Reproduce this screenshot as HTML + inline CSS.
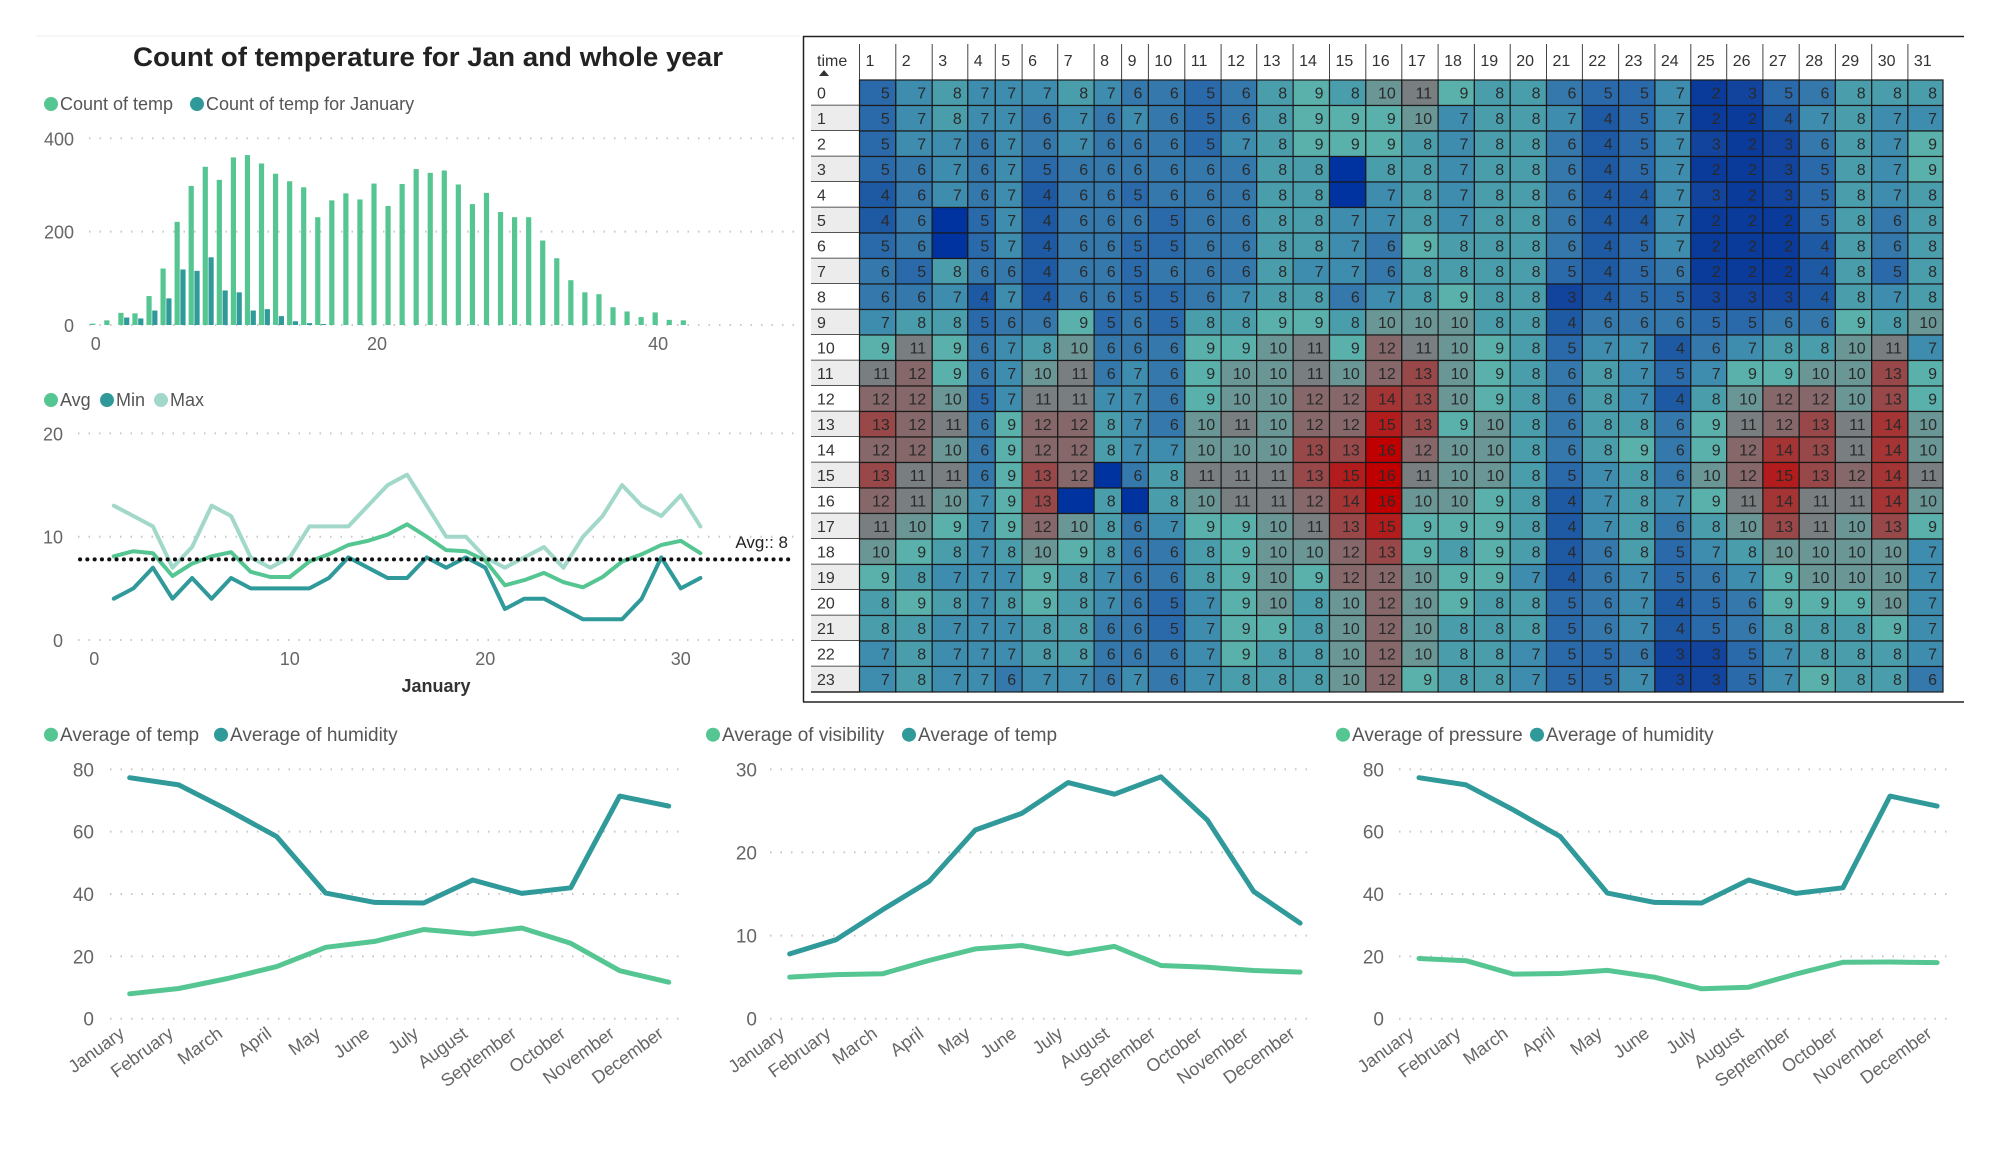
<!DOCTYPE html>
<html><head><meta charset="utf-8"><title>Weather dashboard</title>
<style>
html,body{margin:0;padding:0;background:#fff;}
svg{display:block;font-family:"Liberation Sans",sans-serif;}
</style></head>
<body>
<svg id="dash" width="2000" height="1156" viewBox="0 0 2000 1156" xmlns="http://www.w3.org/2000/svg">
<g id="bars"></g>
<g id="jan"></g>
<g id="heat"></g>
<g id="m1"></g>
<g id="m2"></g>
<g id="m3"></g>
</svg>
<script>
// ---------- data ----------
const tempCategories = [0,1,2,3,4,5,6,7,8,9,10,11,12,13,14,15,16,17,18,19,20,21,22,23,24,25,26,27,28,29,30,31,32,33,34,35,36,37,38,39,40,41,42];
const countAll = [3,10,26,25,62,121,221,298,339,311,359,364,346,324,308,295,231,267,282,269,303,255,302,334,326,331,301,259,283,242,231,231,181,143,96,70,66,38,29,17,27,11,10];
const countJan = [0,0,16,14,31,57,119,116,145,74,70,31,34,19,8,4,2,0,0,0,0,0,0,0,0,0,0,0,0,0,0,0,0,0,0,0,0,0,0,0,0,0,0];
const barYTicks = [0,200,400];
const barXTicks = [0,20,40];

const janDays = [1,2,3,4,5,6,7,8,9,10,11,12,13,14,15,16,17,18,19,20,21,22,23,24,25,26,27,28,29,30,31];
const janMax = [13,12,11,7,9,13,12,8,7,8,11,11,11,13,15,16,13,10,10,8,7,8,9,7,10,12,15,13,12,14,11];
const janAvg = [8.1,8.6,8.4,6.2,7.4,8.1,8.5,6.6,6.1,6.1,7.6,8.3,9.2,9.6,10.2,11.2,10,8.7,8.6,7.7,5.3,5.8,6.5,5.6,5.1,6.1,7.6,8.3,9.2,9.6,8.4];
const janMin = [4,5,7,4,6,4,6,5,5,5,5,6,8,7,6,6,8,7,8,7,3,4,4,3,2,2,2,4,8,5,6];
const janAvgLine = 7.8;
const janYTicks = [0,10,20];
const janXTicks = [0,10,20,30];

const heatCols = [1,2,3,4,5,6,7,8,9,10,11,12,13,14,15,16,17,18,19,20,21,22,23,24,25,26,27,28,29,30,31];
const heatRows = [0,1,2,3,4,5,6,7,8,9,10,11,12,13,14,15,16,17,18,19,20,21,22,23];
const N = null;
const heatValues = [
[5,7,8,7,7,7,8,7,6,6,5,6,8,9,8,10,11,9,8,8,6,5,5,7,2,3,5,6,8,8,8],
[5,7,8,7,7,6,7,6,7,6,5,6,8,9,9,9,10,7,8,8,7,4,5,7,2,2,4,7,8,7,7],
[5,7,7,6,7,6,7,6,6,6,5,7,8,9,9,9,8,7,8,8,6,4,5,7,3,2,3,6,8,7,9],
[5,6,7,6,7,5,6,6,6,6,6,6,8,8,N,8,8,7,8,8,6,4,5,7,2,2,3,5,8,7,9],
[4,6,7,6,7,4,6,6,5,6,6,6,8,8,N,7,8,7,8,8,6,4,4,7,3,2,3,5,8,7,8],
[4,6,N,5,7,4,6,6,6,5,6,6,8,8,7,7,8,7,8,8,6,4,4,7,2,2,2,5,8,6,8],
[5,6,N,5,7,4,6,6,5,5,6,6,8,8,7,6,9,8,8,8,6,4,5,7,2,2,2,4,8,6,8],
[6,5,8,6,6,4,6,6,5,6,6,6,8,7,7,6,8,8,8,8,5,4,5,6,2,2,2,4,8,5,8],
[6,6,7,4,7,4,6,6,5,5,6,7,8,8,6,7,8,9,8,8,3,4,5,5,3,3,3,4,8,7,8],
[7,8,8,5,6,6,9,5,6,5,8,8,9,9,8,10,10,10,8,8,4,6,6,6,5,5,6,6,9,8,10],
[9,11,9,6,7,8,10,6,6,6,9,9,10,11,9,12,11,10,9,8,5,7,7,4,6,7,8,8,10,11,7],
[11,12,9,6,7,10,11,6,7,6,9,10,10,11,10,12,13,10,9,8,6,8,7,5,7,9,9,10,10,13,9],
[12,12,10,5,7,11,11,7,7,6,9,10,10,12,12,14,13,10,9,8,6,8,7,4,8,10,12,12,10,13,9],
[13,12,11,6,9,12,12,8,7,6,10,11,10,12,12,15,13,9,10,8,6,8,8,6,9,11,12,13,11,14,10],
[12,12,10,6,9,12,12,8,7,7,10,10,10,13,13,16,12,10,10,8,6,8,9,6,9,12,14,13,11,14,10],
[13,11,11,6,9,13,12,N,6,8,11,11,11,13,15,16,11,10,10,8,5,7,8,6,10,12,15,13,12,14,11],
[12,11,10,7,9,13,N,8,N,8,10,11,11,12,14,16,10,10,9,8,4,7,8,7,9,11,14,11,11,14,10],
[11,10,9,7,9,12,10,8,6,7,9,9,10,11,13,15,9,9,9,8,4,7,8,6,8,10,13,11,10,13,9],
[10,9,8,7,8,10,9,8,6,6,8,9,10,10,12,13,9,8,9,8,4,6,8,5,7,8,10,10,10,10,7],
[9,8,7,7,7,9,8,7,6,6,8,9,10,9,12,12,10,9,9,7,4,6,7,5,6,7,9,10,10,10,7],
[8,9,8,7,8,9,8,7,6,5,7,9,10,8,10,12,10,9,8,8,5,6,7,4,5,6,9,9,9,10,7],
[8,8,7,7,7,8,8,6,6,5,7,9,9,8,10,12,10,8,8,8,5,6,7,4,5,6,8,8,8,9,7],
[7,8,7,7,7,8,8,6,6,6,7,9,8,8,10,12,10,8,8,7,5,5,6,3,3,5,7,8,8,8,7],
[7,8,7,7,6,7,7,6,7,6,7,8,8,8,10,12,9,8,8,7,5,5,7,3,3,5,7,9,8,8,6]
];

const months = ["January","February","March","April","May","June","July","August","September","October","November","December"];
const humidity = [77.3,75,67,58.4,40.3,37.3,37.1,44.5,40.2,42,71.4,68.2];
const avgTemp = [8,9.7,12.9,16.7,22.9,24.8,28.6,27.2,29.1,24.2,15.4,11.7];
const avgTemp2 = [7.8,9.5,13.1,16.5,22.7,24.7,28.4,27,29.1,23.9,15.3,11.5];
const visibility = [5,5.3,5.4,7,8.4,8.8,7.8,8.7,6.4,6.2,5.8,5.6];
const pressure = [19.3,18.6,14.3,14.5,15.5,13.3,9.6,10.1,14.3,18.1,18.2,18];
const ticks80 = [0,20,40,60,80];
const ticks30 = [0,10,20,30];

// ---------- helpers ----------
const NS = "http://www.w3.org/2000/svg";
function mk(parent, tag, attrs, text){
  const e = document.createElementNS(NS, tag);
  for (const k in attrs) e.setAttribute(k, attrs[k]);
  if (text !== undefined) e.textContent = text;
  parent.appendChild(e);
  return e;
}
const GREEN = "#55c692", TEAL = "#30999a", LIGHT = "#a2d8c9";
function legend(g, x, y, items, size){
  let cx = x;
  items.forEach(it => {
    const c = mk(g, "circle", {cx: cx + 7, cy: y - size*0.33, r: 7, fill: it.c});
    
    
    const t = mk(g, "text", {x: cx + 16, y: y, "font-size": size, fill: "#555"}, it.t);
    
    
    cx += 16 + it.w + 8;
  });
}
function hgrid(g, x1, x2, y){
  const l = mk(g, "line", {x1, x2, y1: y, y2: y, stroke: "#c8c8c8", "stroke-width": 2, "stroke-dasharray": "1.5 9"});
  
  
}
function polyline(g, pts, color, w, name){
  const p = mk(g, "polyline", {points: pts.map(q => q[0].toFixed(1)+","+q[1].toFixed(1)).join(" "), fill: "none", stroke: color, "stroke-width": w, "stroke-linejoin": "round", "stroke-linecap": "round"});
  
  
}

// ---------- bar chart ----------
(function(){
  const g = document.getElementById("bars");
  const t = mk(g, "text", {x: 428, y: 66, "font-size": 27, "font-weight": "bold", "text-anchor": "middle", fill: "#222", textLength: 590, lengthAdjust: "spacingAndGlyphs"}, "Count of temperature for Jan and whole year");
  
  
  mk(g, "line", {x1: 36, x2: 800, y1: 36, y2: 36, stroke: "#eee", "stroke-width": 1});
  legend(g, 44, 110, [{t:"Count of temp", c:GREEN, w:122},{t:"Count of temp for January", c:TEAL, w:220}], 18);
  const x = v => 95.8 + v * 14.06;
  const y = v => 325 - v * 0.4668;
  barYTicks.forEach(v => {
    hgrid(g, 89, 794, y(v));
    const l = mk(g, "text", {x: 74, y: y(v) + 7, "font-size": 18, "text-anchor": "end", fill: "#666"}, v);
    
    
  });
  barXTicks.forEach(v => {
    const l = mk(g, "text", {x: x(v), y: 350, "font-size": 18, "text-anchor": "middle", fill: "#666"}, v);
    
    
  });
  tempCategories.forEach((c, i) => {
    if (countAll[i] > 0) {
      const r = mk(g, "rect", {x: x(c) - 5.6, y: y(countAll[i]), width: 5.2, height: y(0) - y(countAll[i]), fill: GREEN});
      
      
    }
    if (countJan[i] > 0) {
      const r = mk(g, "rect", {x: x(c) + 0.2, y: y(countJan[i]), width: 5.2, height: y(0) - y(countJan[i]), fill: TEAL});
      
      
    }
  });
})();

// ---------- January line chart ----------
(function(){
  const g = document.getElementById("jan");
  legend(g, 44, 406, [{t:"Avg", c:GREEN, w:32},{t:"Min", c:TEAL, w:30},{t:"Max", c:LIGHT, w:34}], 18);
  const x = v => 94.3 + v * 19.55;
  const y = v => 640 - v * 10.33;
  janYTicks.forEach(v => {
    hgrid(g, 78, 794, y(v));
    const l = mk(g, "text", {x: 63, y: y(v) + 7, "font-size": 18, "text-anchor": "end", fill: "#666"}, v);
    
    
  });
  janXTicks.forEach(v => {
    const l = mk(g, "text", {x: x(v), y: 665, "font-size": 18, "text-anchor": "middle", fill: "#666"}, v);
    
    
  });
  const xt = mk(g, "text", {x: 436, y: 692, "font-size": 18, "font-weight": "bold", "text-anchor": "middle", fill: "#333"}, "January");
  
  
  polyline(g, janDays.map((d,i)=>[x(d), y(janMax[i])]), LIGHT, 4, "line-max");
  polyline(g, janDays.map((d,i)=>[x(d), y(janMin[i])]), TEAL, 4, "line-min");
  polyline(g, janDays.map((d,i)=>[x(d), y(janAvg[i])]), GREEN, 4, "line-avg");
  const al = mk(g, "line", {x1: 80, x2: 794, y1: y(janAvgLine), y2: y(janAvgLine), stroke: "#111", "stroke-width": 4, "stroke-dasharray": "0.1 7.2", "stroke-linecap": "round"});
  
  
  const at = mk(g, "text", {x: 788, y: 548, "font-size": 17, "text-anchor": "end", fill: "#222"}, "Avg:: " + Math.round(janAvgLine));
  
  
})();

// ---------- heatmap ----------
(function(){
  const g = document.getElementById("heat");
  const edges = [859.5,895.8,932.2,967.8,995.3,1022.1,1057.7,1094.1,1121.6,1148.4,1184.8,1221.1,1256.7,1293.1,1329.5,1365.8,1401.8,1438.1,1474.4,1510.2,1546.5,1582.4,1618.6,1654.9,1690.8,1726.7,1762.9,1799.2,1835.4,1871.7,1907.9,1943];
  const top = 80, rh = 25.5;
  const stops = [[2,[10,58,154]],[3,[18,68,158]],[4,[30,90,164]],[5,[42,106,170]],[6,[52,120,172]],[7,[62,140,174]],[8,[74,158,172]],[9,[90,176,170]],[10,[106,150,150]],[11,[121,126,128]],[12,[134,104,106]],[13,[152,72,72]],[14,[165,52,52]],[15,[178,28,28]],[16,[192,0,0]]];
  function col(v){
    if (v === null) return "#0033a0";
    if (v <= stops[0][0]) return "rgb("+stops[0][1].join(",")+")";
    for (let i=1;i<stops.length;i++){
      if (v <= stops[i][0]) {
        const a = stops[i-1], b = stops[i], f = (v-a[0])/(b[0]-a[0]);
        return "rgb(" + a[1].map((c,k)=>Math.round(c+(b[1][k]-c)*f)).join(",") + ")";
      }
    }
    return "rgb(192,0,0)";
  }
  mk(g, "line", {x1: 803, x2: 1964, y1: 36.5, y2: 36.5, stroke: "#222", "stroke-width": 1.5});
  mk(g, "line", {x1: 803.5, x2: 803.5, y1: 36, y2: 702, stroke: "#222", "stroke-width": 1.5});
  mk(g, "line", {x1: 803, x2: 1964, y1: 702, y2: 702, stroke: "#222", "stroke-width": 1.5});
  const ht = mk(g, "text", {x: 817, y: 66, "font-size": 16, fill: "#333"}, "time");
  
  
  mk(g, "path", {d: "M819 76 L824 70 L829 76 Z", fill: "#333"});
  heatCols.forEach((c, j) => {
    mk(g, "line", {x1: edges[j], x2: edges[j], y1: 44, y2: 80, stroke: "#444", "stroke-width": 1});
    const t = mk(g, "text", {x: edges[j] + 6, y: 66, "font-size": 16, fill: "#333"}, c);
    
    
  });
  heatRows.forEach((r, i) => {
    const yy = top + i * rh;
    mk(g, "rect", {x: 811, y: yy, width: edges[0] - 811, height: rh, fill: i % 2 ? "#ececec" : "#fff"});
    const t = mk(g, "text", {x: 817, y: yy + 18.5, "font-size": 16, fill: "#333"}, r);
    
    
    heatCols.forEach((c, j) => {
      const v = heatValues[i][j];
      const cell = mk(g, "rect", {x: edges[j], y: yy, width: edges[j+1] - edges[j], height: rh, fill: col(v), stroke: "#1a1a1a", "stroke-width": 1.2});
      
      
      if (v !== null) {
        const tx = mk(g, "text", {x: edges[j+1] - 6, y: yy + 18.5, "font-size": 16, "text-anchor": "end", fill: "#2a2a2a"}, v);
        
        
      }
    });
    mk(g, "line", {x1: 811, x2: edges[0], y1: yy + rh, y2: yy + rh, stroke: "#222", "stroke-width": 1.5});
  });
})();

// ---------- monthly charts ----------
function monthChart(id, cfg){
  const g = document.getElementById(id);
  legend(g, cfg.lx, 741, cfg.legend, 19);
  const x = i => cfg.x0 + i * cfg.step;
  const y = v => 1018.7 - v * (249.4 / cfg.ymax);
  cfg.ticks.forEach(v => {
    hgrid(g, cfg.g1, cfg.g2, y(v));
    const l = mk(g, "text", {x: cfg.yl, y: y(v) + 7, "font-size": 19, "text-anchor": "end", fill: "#666"}, v);
    
    
  });
  months.forEach((m, i) => {
    const px = x(i) - 4, py = 1036;
    const l = mk(g, "text", {x: px, y: py, "font-size": 18, "text-anchor": "end", fill: "#666", transform: "rotate(-36 " + px + " " + py + ")"}, m);
    
    
  });
  cfg.series.forEach(s => polyline(g, s.v.map((v,i)=>[x(i), y(v)]), s.c, 5, s.n));
}
monthChart("m1", {lx: 44, x0: 129.7, step: 49, ymax: 80, ticks: ticks80, g1: 110, g2: 687, yl: 94,
  legend: [{t:"Average of temp", c:GREEN, w:146},{t:"Average of humidity", c:TEAL, w:178}],
  series: [{v: humidity, c: TEAL, n: "line-avg-humidity"},{v: avgTemp, c: GREEN, n: "line-avg-temp"}]});
monthChart("m2", {lx: 706, x0: 789.7, step: 46.4, ymax: 30, ticks: ticks30, g1: 770, g2: 1315, yl: 757,
  legend: [{t:"Average of visibility", c:GREEN, w:172},{t:"Average of temp", c:TEAL, w:146}],
  series: [{v: avgTemp2, c: TEAL, n: "line-avg-temp"},{v: visibility, c: GREEN, n: "line-avg-visibility"}]});
monthChart("m3", {lx: 1336, x0: 1419, step: 47.1, ymax: 80, ticks: ticks80, g1: 1399, g2: 1952, yl: 1384,
  legend: [{t:"Average of pressure", c:GREEN, w:170},{t:"Average of humidity", c:TEAL, w:178}],
  series: [{v: humidity, c: TEAL, n: "line-avg-humidity"},{v: pressure, c: GREEN, n: "line-avg-pressure"}]});
</script>
</body></html>
